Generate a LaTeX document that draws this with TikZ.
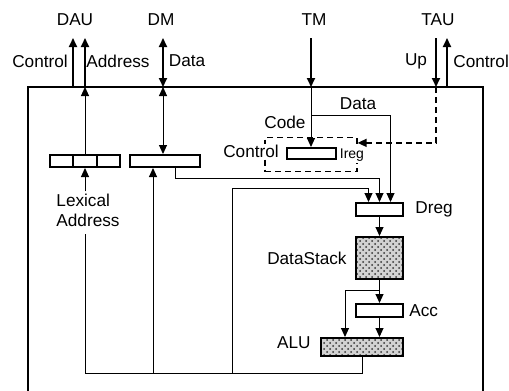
\documentclass[tikz,border=0pt]{standalone}
\usepackage{fontspec}
\setmainfont{Liberation Sans}
\usetikzlibrary{arrows.meta,positioning,calc,patterns}

\tikzset{
  lbl/.style={font=\fontsize{8.6}{10}\selectfont, inner sep=1pt},
  tinylbl/.style={font=\fontsize{7}{8}\selectfont, inner sep=0.5pt},
  reg/.style={draw, line width=1pt, inner sep=0pt, minimum height=6.5pt},
  store/.style={reg, preaction={fill=gray!35}, pattern=crosshatch dots, pattern color=black!80},
  wire/.style={line width=0.5pt},
  bus/.style={line width=1pt},
  ctlwire/.style={line width=0.7pt, dash pattern=on 3pt off 2pt},
}

\begin{document}
\begin{tikzpicture}[x=0.5pt, y=-0.5pt, >={Triangle[length=4.5pt,width=4pt]}]
\useasboundingbox (0,0) rectangle (509,391);
% processor frame, open at the bottom
\draw[line width=1.1pt] (28,391) |- (483,87) -- (483,391);
\coordinate (frame) at (28,87);

% ports
\node[lbl] (dau) at (75,20) {DAU};
\node[lbl] (dm) at (161,20) {DM};
\node[lbl] (tm) at (314,20) {TM};
\node[lbl] (tau) at (438,20) {TAU};
\coordinate (dauctl) at (73,38);
\coordinate (dauadr) at (85,38);
\coordinate (dmdat) at (163,38);
\coordinate (tmcode) at (311,38);
\coordinate (tauup) at (436,38);
\coordinate (tauctl) at (447,38);

\node[lbl] (lctl) at (40,61) {Control};
\node[lbl] (ladr) at (118,61) {Address};
\node[lbl] (ldat) at (187,61) {Data};
\node[lbl] (lup) at (416,61) {Up};
\node[lbl, anchor=west] (rctl) at (451,61) {Control};

% registers
\node[reg, minimum width=35pt, minimum height=6pt] (lex) at (85,161) {};
\foreach \f in {0.333,0.667}
  \draw[line width=0.8pt] ($(lex.north west)!\f!(lex.north east)$) -- ($(lex.south west)!\f!(lex.south east)$);
\node[reg, minimum width=35pt, minimum height=6pt] (dmr) at (165,161) {};
\node[draw, ctlwire, line width=0.6pt, minimum width=46pt, minimum height=17pt, inner sep=0pt] (ctlbox) at (311,154.5) {};
\node[reg, minimum width=24.5pt, minimum height=5.5pt] (ireg) at (311,153.5) {};
\node[reg, minimum width=23.5pt] (dreg) at (379.5,209.5) {};
\node[store, minimum width=23.5pt, minimum height=21pt] (stack) at (379.5,258) {};
\node[reg, minimum width=23.5pt] (acc) at (379.5,310.5) {};
\node[store, minimum width=41pt, minimum height=9pt] (alu) at (362,347) {};

\node[lbl, fill=white, inner sep=0.5pt] (ctl) at (251,151) {Control};
\node[tinylbl, fill=white, right=1pt of ireg, yshift=-1pt] (ireglbl) {Ireg};
\node[lbl, right=4.5pt of dreg] (dreglbl) {Dreg};
\node[lbl, left=3pt of stack] (stacklbl) {DataStack};
\node[lbl, right=1.5pt of acc] (acclbl) {Acc};
\node[lbl, left=3.5pt of alu, yshift=2pt] (alulbl) {ALU};
\node[lbl, align=left] (lexlbl) at (88,210) {Lexical\\Address};
\node[lbl] (datalbl) at (358,104) {Data};
\node[lbl] (codelbl) at (285,122) {Code};

% external links
\draw[bus,->] (dauctl |- frame) -- (dauctl);
\draw[bus,->] (dauadr |- frame) -- (dauadr);
\draw[bus,<->] (dmdat |- frame) -- (dmdat);
\draw[bus,->] (tmcode) -- (tmcode |- frame);
\draw[bus,->] (tauup) -- (tauup |- frame);
\draw[bus,->] (tauctl |- frame) -- (tauctl);

% internal paths
\draw[wire,->] (lex.north) -- (lex.north |- frame);
\draw[wire,<->] (dmr.north -| dmdat) -- (dmdat |- frame);
\draw[wire,->] (lexlbl.north -| lex.south) -- (lex.south);
\draw[wire,->] (tmcode |- frame) -- (ireg.north -| tmcode);
\draw[wire,->] (tmcode |- 0,115) -| ($(dreg.north)+(11,0)$);
\draw[ctlwire,->] (tauup |- frame) |- ($(ctlbox.north east)!0.17!(ctlbox.south east)$);
\draw[wire,->] ($(dmr.south)+(10,0)$) -- ++(0,10) -| (dreg.north);
\draw[wire,->] (dreg.south) -- (stack.north);
\draw[wire,->] (stack.south) -- (acc.north);
\draw[wire,->] (stack.south) ++(0,10) -| ($(alu.north)+(-17,0)$);
\draw[wire,->] (acc.south) -- (alu.north -| acc.south);

% result bus back to the registers
\coordinate (bus) at ($(alu.south)+(0,16)$);
\draw[wire] (alu.south) -- (bus) -| ($(lexlbl.south -| lex.south)+(0,5)$);
\draw[wire,->] (bus -| 153,0) -- (dmr.south -| 153,0);
\draw[wire,->] (bus -| 232,0) |- ($(dreg.north)+(-11,-14)$) -- ($(dreg.north)+(-11,0)$);
\end{tikzpicture}
\end{document}
